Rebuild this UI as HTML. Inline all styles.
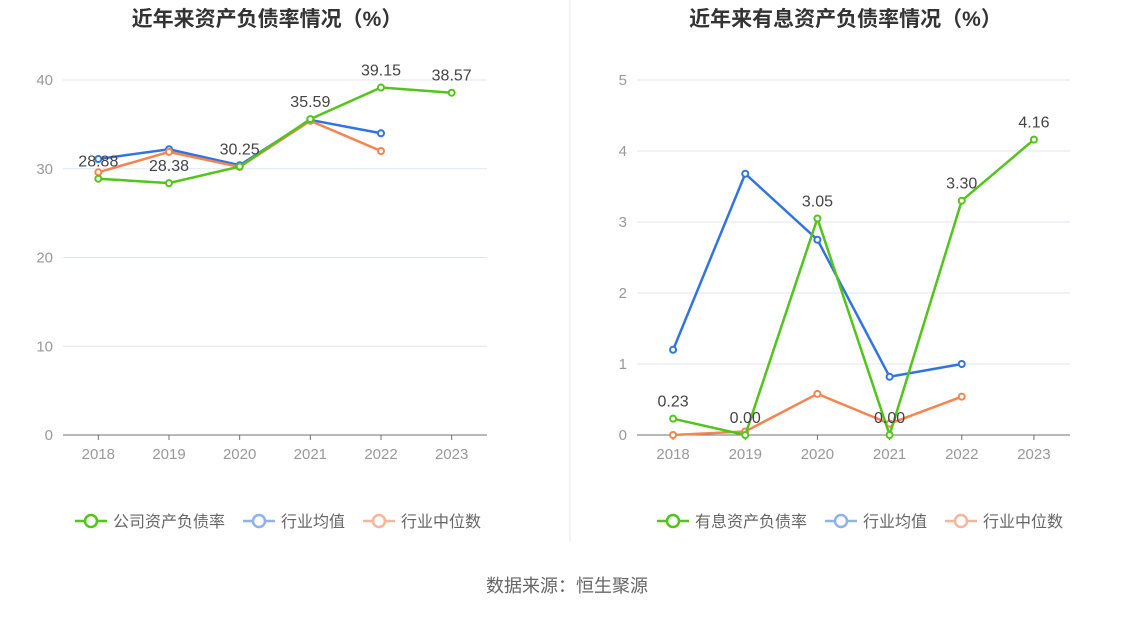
<!DOCTYPE html>
<html><head><meta charset="utf-8">
<style>
body{margin:0;background:#fff;font-family:"Liberation Sans","Noto Sans CJK SC",sans-serif;}
svg text{font-family:"Liberation Sans","Noto Sans CJK SC",sans-serif;}
</style></head>
<body>
<svg id="c" width="1134" height="612" xmlns="http://www.w3.org/2000/svg">
<line x1="570" y1="0" x2="570" y2="542" stroke="#e8e8e8"/>
<text x="567" y="592" text-anchor="middle" font-size="18" fill="#666">数据来源：恒生聚源</text>
</svg>
<script>
const years=["2018","2019","2020","2021","2022","2023"];
const leftTicks=[0,10,20,30,40];
const leftCompany=[28.88,28.38,30.25,35.59,39.15,38.57];
const leftCompanyLabels=["28.88","28.38","30.25","35.59","39.15","38.57"];
const leftMean=[31.1,32.2,30.4,35.5,34.0];
const leftMedian=[29.6,31.9,30.2,35.4,32.0];
const rightTicks=[0,1,2,3,4,5];
const rightCompany=[0.23,0.00,3.05,0.00,3.30,4.16];
const rightCompanyLabels=["0.23","0.00","3.05","0.00","3.30","4.16"];
const rightMean=[1.20,3.68,2.75,0.82,1.00];
const rightMedian=[0.0,0.05,0.58,0.16,0.54];
const NS="http://www.w3.org/2000/svg";
const svg=document.getElementById('c');
function mk(tag,attrs,parent){const e=document.createElementNS(NS,tag);for(const k in attrs)e.setAttribute(k,attrs[k]);(parent||svg).appendChild(e);return e;}
const GREEN="#52c41a",BLUE="#3174e0",ORANGE="#f5844f";
function panel(p){
  const g=mk('g',{});
  
  
  const x0=p.x0,x1=p.x1,yb=435,yt=80,max=p.max;
  const step=(x1-x0)/years.length;
  const X=i=>x0+step*(i+0.5);
  const Y=v=>yb-(v/max)*(yb-yt);
  const t=mk('text',{x:(x0+x1)/2-8,y:26,'text-anchor':'middle','font-size':21,'font-weight':'bold',fill:'#333'},g);
  t.textContent=p.title;
  
  
  p.ticks.forEach(v=>{
    if(v>0){const l=mk('line',{x1:x0,x2:x1,y1:Y(v),y2:Y(v),stroke:'#e0e6f1'},g);
      
      }
    const tt=mk('text',{x:x0-10,y:Y(v)+5,'text-anchor':'end','font-size':15,fill:'#999'},g);
    tt.textContent=v;
    
    
  });
  const ax=mk('line',{x1:x0,x2:x1,y1:yb,y2:yb,stroke:'#6e7079'},g);
  
  
  years.forEach((y,i)=>{
    const tk=mk('line',{x1:X(i),x2:X(i),y1:yb,y2:yb+5,stroke:'#6e7079'},g);
    
    
    const tt=mk('text',{x:X(i),y:yb+24,'text-anchor':'middle','font-size':15,fill:'#999'},g);
    tt.textContent=y;
    
    
  });
  function series(vals,color,name){
    const pl=mk('polyline',{points:vals.map((v,i)=>X(i)+','+Y(v)).join(' '),fill:'none',stroke:color,'stroke-width':2.5},g);
    
    
    vals.forEach((v,i)=>{
      const c=mk('circle',{cx:X(i),cy:Y(v),r:3,fill:'#fff',stroke:color,'stroke-width':2},g);
      
      
    });
  }
  series(p.mean,BLUE,'industry-mean');
  series(p.median,ORANGE,'industry-median');
  series(p.company,GREEN,'company');
  p.company.forEach((v,i)=>{
    const tt=mk('text',{x:X(i),y:Y(v)-12,'text-anchor':'middle','font-size':16,fill:'#444'},g);
    tt.textContent=p.labels[i];
    
    
  });
  let lx=p.legendX;
  [[p.lname,GREEN],['行业均值',BLUE],['行业中位数',ORANGE]].forEach(([n,c],k)=>{
    const lg=mk('g',{},g);
    
    
    const col=k==0?c:(k==1?'#8fb2ef':'#f9b59a');
    mk('line',{x1:lx,x2:lx+32,y1:521,y2:521,stroke:col,'stroke-width':2.5},lg);
    mk('circle',{cx:lx+16,cy:521,r:6,fill:'#fff',stroke:col,'stroke-width':2.5},lg);
    const tt=mk('text',{x:lx+38,y:527,'font-size':16,fill:'#666'},lg);
    tt.textContent=n;
    lx+=38+n.length*16+18;
  });
}
panel({id:'left',x0:63,x1:487,max:40,ticks:leftTicks,title:'近年来资产负债率情况（%）',company:leftCompany,labels:leftCompanyLabels,mean:leftMean,median:leftMedian,lname:'公司资产负债率',legendX:75});
panel({id:'right',x0:637,x1:1070,max:5,ticks:rightTicks,title:'近年来有息资产负债率情况（%）',company:rightCompany,labels:rightCompanyLabels,mean:rightMean,median:rightMedian,lname:'有息资产负债率',legendX:657});
</script>
</body></html>
